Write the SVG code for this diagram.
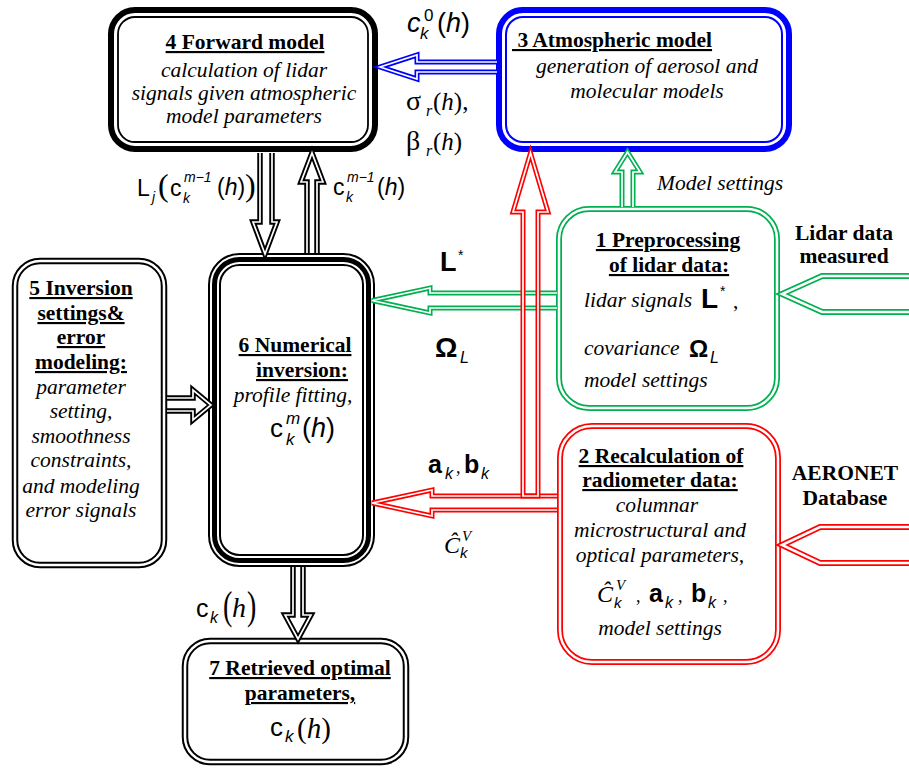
<svg xmlns="http://www.w3.org/2000/svg" width="909" height="768" viewBox="0 0 909 768" font-size="21.5">
<style>
text { font-family: "Liberation Serif", "Times New Roman", serif; fill: #000; }
.ti { font-weight: bold; text-decoration: underline; }
.bo { font-weight: bold; }
.it { font-style: italic; }
.ss { font-family: "Liberation Sans", Arial, sans-serif; }
.mid { text-anchor: middle; }
.co { fill: none; stroke-linejoin: miter; }
.w { fill: none; stroke: #fff; stroke-width: 1.7; stroke-linejoin: miter; }
.k5 { stroke: #000; stroke-width: 5.5; }
.b5 { stroke: #0000ff; stroke-width: 5; }
.g5 { stroke: #00b050; stroke-width: 5; }
.r5 { stroke: #ff0000; stroke-width: 5; }
.g6 { stroke: #00b050; stroke-width: 6; }
.r6 { stroke: #ff0000; stroke-width: 6; }
.w25 { fill: none; stroke: #fff; stroke-width: 2.5; }
</style>

<!-- Node 4 Forward model -->
<g id="node4">
  <rect x="111" y="10" width="264" height="139" rx="24" fill="#fff" stroke="#000" stroke-width="6"/>
  <rect x="118" y="17" width="250" height="125" rx="17" fill="none" stroke="#000" stroke-width="1.8"/>
  <text class="ti mid" x="245" y="49">4 Forward model</text>
  <text class="it mid" x="244" y="77">calculation of lidar</text>
  <text class="it mid" x="244" y="100">signals given atmospheric</text>
  <text class="it mid" x="244" y="123">model parameters</text>
</g>

<!-- Node 3 Atmospheric model -->
<g id="node3">
  <rect x="499" y="10" width="290" height="139" rx="24" fill="#fff" stroke="#0000ff" stroke-width="6"/>
  <rect x="506" y="17" width="276" height="125" rx="17" fill="none" stroke="#0000ff" stroke-width="2"/>
  <text class="ti" x="512" y="47" xml:space="preserve"> 3 Atmospheric model</text>
  <text class="it mid" x="647" y="73">generation of aerosol and</text>
  <text class="it mid" x="647" y="98">molecular models</text>
</g>

<!-- Node 1 Preprocessing -->
<g id="node1">
  <rect x="559" y="209" width="218" height="199" rx="30" fill="#fff" stroke="#00b050" stroke-width="6"/>
  <rect x="559" y="209" width="218" height="199" rx="30" class="w25"/>
  <text class="ti mid" x="668" y="247">1 Preprocessing</text>
  <text class="ti mid" x="669" y="272">of lidar data:</text>
  <text class="it" x="584" y="307">lidar signals</text>
  <text class="ss bo" x="701" y="308" font-size="28">L</text>
  <text class="ss" x="720" y="296" font-size="14">*</text>
  <text x="733" y="308">,</text>
  <text class="it" x="584" y="355">covariance</text>
  <text class="ss bo" x="689" y="357" font-size="24">Ω</text>
  <text class="ss it" x="710" y="363" font-size="16">L</text>
  <text class="it" x="584" y="387">model settings</text>
</g>

<!-- Node 2 Recalculation -->
<g id="node2">
  <rect x="560" y="426" width="218" height="236" rx="32" fill="#fff" stroke="#ff0000" stroke-width="6"/>
  <rect x="560" y="426" width="218" height="236" rx="32" class="w25"/>
  <text class="ti mid" x="661" y="463">2 Recalculation of</text>
  <text class="ti mid" x="660" y="487">radiometer data:</text>
  <text class="it mid" x="657" y="512">columnar</text>
  <text class="it mid" x="660" y="537">microstructural and</text>
  <text class="it mid" x="660" y="562">optical parameters,</text>
  <text class="it" x="597" y="602" font-size="24">Ĉ</text>
  <text class="it" x="616" y="590" font-size="15">V</text>
  <text class="ss it" x="614" y="608" font-size="15">k</text>
  <text x="636" y="602" font-size="18">,</text>
  <text class="ss bo" x="649" y="602" font-size="25">a</text>
  <text class="ss it" x="665" y="608" font-size="16">k</text>
  <text x="678" y="602" font-size="18">,</text>
  <text class="ss bo" x="691" y="602" font-size="25">b</text>
  <text class="ss it" x="708" y="608" font-size="16">k</text>
  <text x="723" y="602" font-size="18">,</text>
  <text class="it mid" x="660" y="635">model settings</text>
</g>

<!-- Node 5 Inversion settings -->
<g id="node5">
  <rect x="15" y="261" width="149" height="304" rx="25" fill="#fff" stroke="#000" stroke-width="6.5"/>
  <rect x="15" y="261" width="149" height="304" rx="25" class="w25"/>
  <text class="ti mid" x="81" y="295">5 Inversion</text>
  <text class="ti mid" x="81" y="320">settings&amp;</text>
  <text class="ti mid" x="81" y="344">error</text>
  <text class="ti mid" x="81" y="369">modeling:</text>
  <text class="it mid" x="81" y="394">parameter</text>
  <text class="it mid" x="81" y="418">setting,</text>
  <text class="it mid" x="81" y="443">smoothness</text>
  <text class="it mid" x="81" y="467">constraints,</text>
  <text class="it mid" x="81" y="493">and modeling</text>
  <text class="it mid" x="81" y="517">error signals</text>
</g>

<!-- Node 6 Numerical inversion -->
<g id="node6">
  <rect x="214.5" y="259.5" width="154" height="301" rx="25" fill="#fff" stroke="#000" stroke-width="13"/>
  <rect x="214.5" y="259.5" width="154" height="301" rx="25" fill="none" stroke="#fff" stroke-width="9"/>
  <rect x="214.5" y="259.5" width="154" height="301" rx="25" fill="none" stroke="#000" stroke-width="5"/>
  <text class="ti mid" x="295" y="352">6 Numerical</text>
  <text class="ti mid" x="302" y="377">inversion:</text>
  <text class="it mid" x="293" y="402">profile fitting,</text>
  <text class="ss" x="270" y="437" font-size="26">c</text>
  <text class="ss it" x="286" y="424" font-size="17">m</text>
  <text class="ss it" x="286" y="445" font-size="17">k</text>
  <text class="ss" x="302" y="437" font-size="27">(<tspan class="it">h</tspan>)</text>
</g>

<!-- Node 7 Retrieved optimal parameters -->
<g id="node7">
  <rect x="185" y="641" width="221" height="121" rx="25" fill="#fff" stroke="#000" stroke-width="6.5"/>
  <rect x="185" y="641" width="221" height="121" rx="25" class="w25"/>
  <text class="ti mid" x="300" y="675">7 Retrieved optimal</text>
  <text class="ti mid" x="300" y="700">parameters,</text>
  <text class="ss" x="270" y="736" font-size="26">c</text>
  <text class="ss it" x="285" y="742" font-size="17">k</text>
  <text x="297" y="738" font-size="29">(<tspan class="it">h</tspan>)</text>
</g>

<!-- Connectors -->
<g id="connectors">
  <!-- 3 -> 4 blue -->
  <path class="co b5" d="M497,62 H417 V55 L380,67 L417,79 V72 H497"/>
  <path class="w" d="M497,62 H417 V55 L380,67 L417,79 V72 H497"/>
  <!-- 4 -> 6 down -->
  <path class="co k5" d="M260,153 V222 H253 L265,254 L277,222 H272 V153"/>
  <path class="w" d="M260,153 V222 H253 L265,254 L277,222 H272 V153"/>
  <!-- 6 -> 4 up -->
  <path class="co k5" d="M307,253 V182 H301 L312,153 L323,182 H317 V253"/>
  <path class="w" d="M307,253 V182 H301 L312,153 L323,182 H317 V253"/>
  <!-- 5 -> 6 -->
  <path class="co k5" d="M167,398 H193 V390 L211,405 L193,420 V411 H167"/>
  <path class="w" d="M167,398 H193 V390 L211,405 L193,420 V411 H167"/>
  <!-- 6 -> 7 -->
  <path class="co k5" d="M293,567 V615 H285 L298,639 L311,615 H303 V567"/>
  <path class="w" d="M293,567 V615 H285 L298,639 L311,615 H303 V567"/>
  <!-- 1 -> 6 green -->
  <path class="co g5" d="M557,293 H430 V288 L372,300.5 L430,313 V308 H557"/>
  <path class="w" d="M557,293 H430 V288 L372,300.5 L430,313 V308 H557"/>
  <!-- 1 -> 3 green up -->
  <path class="co g5" d="M622,207 V172 H615 L627.5,152 L640,172 H633 V207"/>
  <path class="w" d="M622,207 V172 H615 L627.5,152 L640,172 H633 V207"/>
  <!-- 2 -> 6 red -->
  <path class="co r5" d="M557,496 H432 V490 L372,503 L432,516 V510 H557"/>
  <path class="w" d="M557,496 H432 V490 L372,503 L432,516 V510 H557"/>
  <!-- 2 -> 3 red up -->
  <path class="co r5" d="M523,496 V212 H513 L530.5,153 L548,212 H538 V496 Z"/>
  <path class="w" d="M523,496 V212 H513 L530.5,153 L548,212 H538 V496 Z"/>
  <!-- Lidar data measured -> 1 -->
  <path class="co g6" d="M915,276 H822 L782,294 L822,312 H915"/>
  <path class="w25" d="M915,276 H822 L782,294 L822,312 H915"/>
  <!-- AERONET -> 2 -->
  <path class="co r6" d="M915,527 H820 L782,545 L820,563 H915"/>
  <path class="w25" d="M915,527 H820 L782,545 L820,563 H915"/>
</g>

<!-- Connector labels -->
<g id="labels">
  <text class="ss it" x="407" y="32" font-size="27">c</text>
  <text class="ss" x="424" y="21" font-size="17">0</text>
  <text class="ss it" x="420" y="39" font-size="17">k</text>
  <text class="ss" x="437" y="32" font-size="27">(<tspan class="it">h</tspan>)</text>

  <text x="406" y="110" font-size="28">σ</text>
  <text class="it" x="426" y="116" font-size="16">r</text>
  <text x="433" y="110" font-size="25">(<tspan class="it">h</tspan>),</text>
  <text x="406" y="150" font-size="28">β</text>
  <text class="it" x="426" y="156" font-size="16">r</text>
  <text x="433" y="150" font-size="25">(<tspan class="it">h</tspan>)</text>

  <text class="ss" x="137" y="196" font-size="23">L</text>
  <text class="ss it" x="152" y="202" font-size="14">j</text>
  <text x="158" y="196" font-size="32">(</text>
  <text class="ss" x="170" y="196" font-size="23">c</text>
  <text class="ss it" x="184" y="182" font-size="14">m−1</text>
  <text class="ss it" x="183" y="203" font-size="14">k</text>
  <text class="ss" x="217" y="195" font-size="23">(<tspan class="it">h</tspan>)</text>
  <text x="245" y="196" font-size="32">)</text>

  <text class="ss" x="333" y="195" font-size="23">c</text>
  <text class="ss it" x="347" y="182" font-size="14">m−1</text>
  <text class="ss it" x="346" y="202" font-size="14">k</text>
  <text class="ss" x="377" y="195" font-size="23">(<tspan class="it">h</tspan>)</text>

  <text class="it" x="657" y="190">Model settings</text>

  <text class="bo mid" x="844" y="240">Lidar data</text>
  <text class="bo mid" x="844" y="263">measured</text>
  <text class="bo mid" x="845" y="480">AERONET</text>
  <text class="bo mid" x="845" y="505">Database</text>

  <text class="ss bo" x="440" y="271" font-size="27">L</text>
  <text class="ss" x="458" y="260" font-size="14">*</text>

  <text class="ss bo" x="435" y="357" font-size="28">Ω</text>
  <text class="ss it" x="460" y="363" font-size="16">L</text>

  <text class="ss bo" x="428" y="473" font-size="25">a</text>
  <text class="ss it" x="445" y="479" font-size="16">k</text>
  <text x="456" y="473" font-size="18">,</text>
  <text class="ss bo" x="464" y="473" font-size="25">b</text>
  <text class="ss it" x="481" y="479" font-size="16">k</text>

  <text class="it" x="444" y="553" font-size="24">Ĉ</text>
  <text class="it" x="462" y="541" font-size="15">V</text>
  <text class="ss it" x="460" y="558" font-size="15">k</text>

  <text class="ss" x="196" y="617" font-size="25">c</text>
  <text class="ss it" x="210" y="623" font-size="16">k</text>
  <text transform="translate(223,619) scale(0.7,1)" font-size="40">(</text>
  <text class="it" x="232" y="617" font-size="28">h</text>
  <text transform="translate(247,619) scale(0.7,1)" font-size="40">)</text>
</g>
</svg>
